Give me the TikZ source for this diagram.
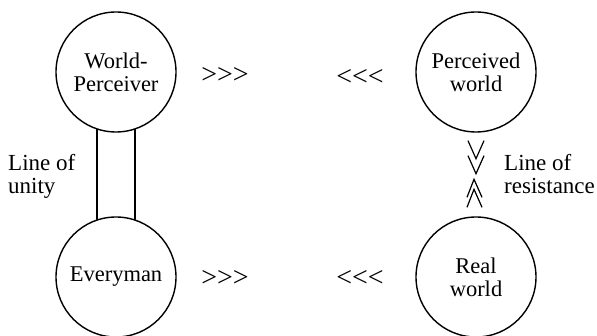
\documentclass[tikz,border=0pt]{standalone}
\usepackage{fontspec}
\setmainfont{Liberation Serif}
\usetikzlibrary{backgrounds}
\begin{document}
\begin{tikzpicture}[x=1pt,y=-1pt,
  circ/.style={circle,draw,line width=1.4pt,fill=white,minimum size=120pt,inner sep=0pt,align=center,
    font=\fontsize{22.5}{23}\selectfont},
  lbl/.style={align=left,anchor=west,font=\fontsize{23}{23}\selectfont,inner sep=0pt},
  arr/.style={font=\fontsize{28}{28}\selectfont,inner sep=0pt},
  chev/.style={line width=1.2pt,line join=miter}]
\useasboundingbox (0,0) rectangle (597,336);
\clip (0,0) rectangle (597,336);
\node[circ] (wp) at (116,72) {World-\\Perceiver};
\node[circ] (ev) at (116,277) {Everyman};
\node[circ] (pw) at (476,72) {Perceived\\world};
\node[circ] (rw) at (476,277) {Real\\world};
\begin{scope}[on background layer]
\draw[line width=1.4pt] ([xshift=-19pt]wp.center) -- ([xshift=-19pt]ev.center);
\draw[line width=1.4pt] ([xshift=19pt]wp.center) -- ([xshift=19pt]ev.center);
\end{scope}
\node[lbl] (lu) at (8,176) {Line of\\unity};
\node[lbl] (lr) at (504,174) {Line of\\resistance};
\node[arr] (a1) at (225,75) {>{}>{}>};
\node[arr] (a2) at (225,278) {>{}>{}>};
\node[arr] (a3) at (360,77) {<{}<{}<};
\node[arr] (a4) at (360,278) {<{}<{}<};
\draw[chev] ([shift={(-8,8)}]pw.south) -- ([shift={(0,26)}]pw.south) -- ([shift={(8,8)}]pw.south);
\draw[chev] ([shift={(-8,23)}]pw.south) -- ([shift={(0,41)}]pw.south) -- ([shift={(8,23)}]pw.south);
\draw[chev] ([shift={(-9,-9)}]rw.north) -- ([shift={(-2,-27)}]rw.north) -- ([shift={(6,-9)}]rw.north);
\draw[chev] ([shift={(-9,-19)}]rw.north) -- ([shift={(-2,-37)}]rw.north) -- ([shift={(6,-19)}]rw.north);
\end{tikzpicture}
\end{document}
